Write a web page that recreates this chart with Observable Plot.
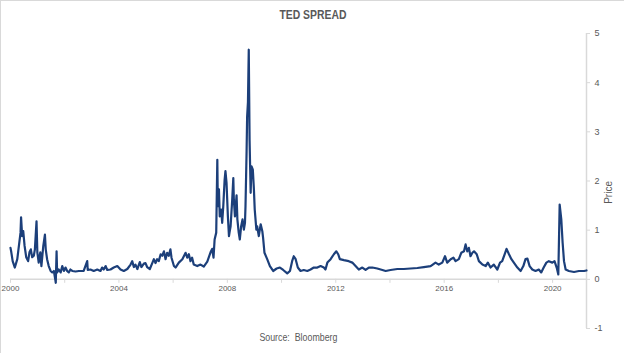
<!DOCTYPE html>
<html><head><meta charset="utf-8">
<script src="https://cdn.jsdelivr.net/npm/d3@7"></script>
<script src="https://cdn.jsdelivr.net/npm/@observablehq/plot@0.6"></script>
<style>
html,body{margin:0;padding:0;background:#fff;}
#wrap{width:623px;height:352px;border-top:1px solid #d9d9d9;border-left:1px solid #d9d9d9;font-family:"Liberation Sans",Arial,sans-serif;overflow:hidden;}
#title{height:27px;line-height:28px;text-align:center;font-size:13px;font-weight:bold;color:#595959;}
#title span,#caption span{display:inline-block;transform:scaleX(0.8);transform-origin:center;}
#chart svg{display:block;}
#caption{width:576px;padding-left:9px;text-align:center;font-size:10.5px;line-height:18px;color:#595959;white-space:pre;}
#caption span{transform:scaleX(0.84);}
</style>
</head><body>
<div id="wrap">
  <div id="title"><span>TED SPREAD</span></div>
  <div id="chart"></div>
  <div id="caption"><span>Source:  Bloomberg</span></div>
</div>
<script>
const years = [
  2000.00, 2000.03, 2000.08, 2000.16, 2000.25, 2000.31, 2000.37, 2000.39, 2000.43, 2000.47,
  2000.52, 2000.58, 2000.65, 2000.70, 2000.75, 2000.80, 2000.86, 2000.90, 2000.96, 2000.99,
  2001.04, 2001.10, 2001.14, 2001.21, 2001.27, 2001.30, 2001.35, 2001.41, 2001.48, 2001.54,
  2001.60, 2001.66, 2001.67, 2001.70, 2001.72, 2001.78, 2001.85, 2001.91, 2001.97, 2002.03,
  2002.09, 2002.15, 2002.21, 2002.28, 2002.40, 2002.52, 2002.70, 2002.83, 2002.85, 2002.95,
  2003.07, 2003.20, 2003.32, 2003.38, 2003.44, 2003.51, 2003.57, 2003.69, 2003.81, 2003.94,
  2004.06, 2004.18, 2004.31, 2004.43, 2004.49, 2004.55, 2004.61, 2004.68, 2004.77, 2004.83,
  2004.92, 2004.98, 2005.04, 2005.14, 2005.23, 2005.29, 2005.35, 2005.41, 2005.47, 2005.54,
  2005.60, 2005.66, 2005.72, 2005.78, 2005.84, 2005.90, 2005.94, 2006.03, 2006.09, 2006.21,
  2006.34, 2006.46, 2006.52, 2006.58, 2006.64, 2006.70, 2006.76, 2006.89, 2007.01, 2007.13,
  2007.26, 2007.38, 2007.44, 2007.49, 2007.53, 2007.59, 2007.63, 2007.65, 2007.69, 2007.72,
  2007.77, 2007.81, 2007.85, 2007.90, 2007.93, 2007.97, 2008.02, 2008.06, 2008.08, 2008.12,
  2008.18, 2008.22, 2008.24, 2008.28, 2008.34, 2008.37, 2008.42, 2008.46, 2008.51, 2008.56,
  2008.61, 2008.65, 2008.67, 2008.71, 2008.73, 2008.76, 2008.79, 2008.82, 2008.86, 2008.89,
  2008.94, 2008.98, 2009.01, 2009.07, 2009.10, 2009.16, 2009.23, 2009.29, 2009.32, 2009.37,
  2009.47, 2009.57, 2009.69, 2009.82, 2009.94, 2010.06, 2010.21, 2010.31, 2010.39, 2010.45,
  2010.52, 2010.60, 2010.70, 2010.82, 2010.95, 2011.07, 2011.19, 2011.32, 2011.44, 2011.56,
  2011.62, 2011.69, 2011.81, 2011.93, 2012.02, 2012.09, 2012.15, 2012.30, 2012.48, 2012.61,
  2012.73, 2012.85, 2012.98, 2013.10, 2013.22, 2013.35, 2013.53, 2013.72, 2013.84, 2014.02,
  2014.27, 2014.51, 2014.76, 2015.01, 2015.25, 2015.50, 2015.68, 2015.80, 2015.93, 2016.03,
  2016.11, 2016.24, 2016.34, 2016.42, 2016.54, 2016.63, 2016.73, 2016.79, 2016.85, 2016.91,
  2016.97, 2017.04, 2017.10, 2017.20, 2017.28, 2017.41, 2017.53, 2017.61, 2017.71, 2017.83,
  2017.96, 2018.06, 2018.14, 2018.23, 2018.30, 2018.39, 2018.48, 2018.57, 2018.70, 2018.82,
  2018.92, 2019.00, 2019.07, 2019.15, 2019.25, 2019.37, 2019.49, 2019.58, 2019.67, 2019.77,
  2019.86, 2019.99, 2020.07, 2020.15, 2020.21, 2020.26, 2020.32, 2020.37, 2020.42, 2020.48,
  2020.60, 2020.79, 2020.97, 2021.16, 2021.25
];
const spread = [
  0.64, 0.55, 0.37, 0.24, 0.41, 0.68, 0.95, 1.26, 0.88, 0.98,
  0.68, 0.45, 0.37, 0.55, 0.61, 0.45, 0.48, 0.61, 1.18, 0.55,
  0.34, 0.55, 0.27, 0.68, 0.91, 0.61, 0.41, 0.27, 0.17, 0.14,
  0.17, -0.03, -0.07, 0.57, 0.14, 0.20, 0.14, 0.27, 0.17, 0.24,
  0.17, 0.14, 0.20, 0.17, 0.16, 0.17, 0.17, 0.37, 0.19, 0.20,
  0.17, 0.20, 0.17, 0.24, 0.20, 0.27, 0.19, 0.20, 0.24, 0.27,
  0.20, 0.17, 0.21, 0.30, 0.37, 0.25, 0.30, 0.21, 0.35, 0.25,
  0.32, 0.33, 0.25, 0.21, 0.33, 0.41, 0.33, 0.41, 0.37, 0.51,
  0.48, 0.57, 0.41, 0.54, 0.48, 0.61, 0.44, 0.27, 0.24, 0.34,
  0.41, 0.54, 0.44, 0.51, 0.37, 0.44, 0.30, 0.27, 0.30, 0.26,
  0.36, 0.55, 0.62, 0.44, 0.81, 0.95, 2.43, 1.49, 1.83, 1.28,
  1.42, 1.15, 1.49, 2.03, 2.20, 1.96, 1.28, 0.88, 0.95, 1.08,
  1.62, 2.06, 1.62, 1.28, 1.71, 1.22, 0.95, 0.81, 1.08, 1.22,
  1.01, 1.15, 1.49, 2.60, 3.31, 3.60, 4.67, 2.84, 1.76, 2.30,
  2.23, 1.83, 1.42, 1.01, 1.08, 0.88, 1.12, 0.98, 0.84, 0.54,
  0.41, 0.27, 0.17, 0.22, 0.24, 0.19, 0.12, 0.17, 0.37, 0.47,
  0.41, 0.24, 0.17, 0.19, 0.17, 0.20, 0.24, 0.24, 0.27, 0.24,
  0.20, 0.34, 0.41, 0.51, 0.57, 0.51, 0.41, 0.39, 0.37, 0.34,
  0.27, 0.20, 0.24, 0.19, 0.24, 0.24, 0.22, 0.19, 0.17, 0.19,
  0.21, 0.21, 0.22, 0.23, 0.25, 0.27, 0.34, 0.30, 0.34, 0.47,
  0.34, 0.41, 0.44, 0.37, 0.41, 0.54, 0.57, 0.71, 0.57, 0.64,
  0.47, 0.54, 0.57, 0.51, 0.37, 0.30, 0.27, 0.34, 0.24, 0.30,
  0.20, 0.34, 0.37, 0.51, 0.62, 0.51, 0.41, 0.34, 0.24, 0.17,
  0.27, 0.41, 0.42, 0.27, 0.20, 0.17, 0.20, 0.14, 0.24, 0.34,
  0.37, 0.34, 0.37, 0.24, 0.10, 1.52, 1.22, 0.74, 0.37, 0.20,
  0.17, 0.15, 0.17, 0.17, 0.18
];
const xDomain = [2000, 2021.25];
const xTicks = [2000, 2002, 2004, 2006, 2008, 2010, 2012, 2014, 2016, 2018, 2020];
const xLabels = [2000, 2004, 2008, 2012, 2016, 2020];
const yTicks = [-1, 0, 1, 2, 3, 4, 5];
const yLabel = "Price";

const data = years.map((t, i) => ({t, v: spread[i]}));
const axisColor = "#d9d9d9";
const textColor = "#595959";

const chart = Plot.plot({
  width: 623, height: 300,
  marginLeft: 9, marginRight: 38, marginTop: 5, marginBottom: 0,
  x: {domain: xDomain, axis: null},
  y: {domain: [yTicks[0], yTicks[yTicks.length - 1]], axis: null},
  style: {fontFamily: "'Liberation Sans', Arial, sans-serif", background: "transparent", overflow: "visible"},
  marks: [
    Plot.ruleY([0], {stroke: axisColor, strokeWidth: 1.5}),
    Plot.ruleX([xDomain[1]], {y1: yTicks[0], y2: yTicks[yTicks.length - 1], stroke: axisColor, strokeWidth: 1.5}),
    Plot.ruleX(xTicks, {y1: 0, y2: 0, insetBottom: -4, stroke: axisColor}),
    Plot.ruleY(yTicks, {x1: xDomain[1], x2: xDomain[1], insetRight: -4, stroke: axisColor}),
    Plot.text(xLabels, {x: d => d, y: 0, dy: 9, text: d => String(d), fontSize: 8, fill: textColor}),
    Plot.text(yTicks, {y: d => d, frameAnchor: "right", dx: 8, textAnchor: "start", text: d => String(d), fontSize: 9, fill: textColor}),
    Plot.text([yLabel], {y: 2, frameAnchor: "right", dx: 22, rotate: -90, text: d => d, fontSize: 10, fill: textColor}),
    Plot.line(data, {x: "t", y: "v", stroke: "#1c3f7a", strokeWidth: 2.2, strokeLinejoin: "round"})
  ]
});
document.getElementById("chart").appendChild(chart);
</script>
</body></html>
